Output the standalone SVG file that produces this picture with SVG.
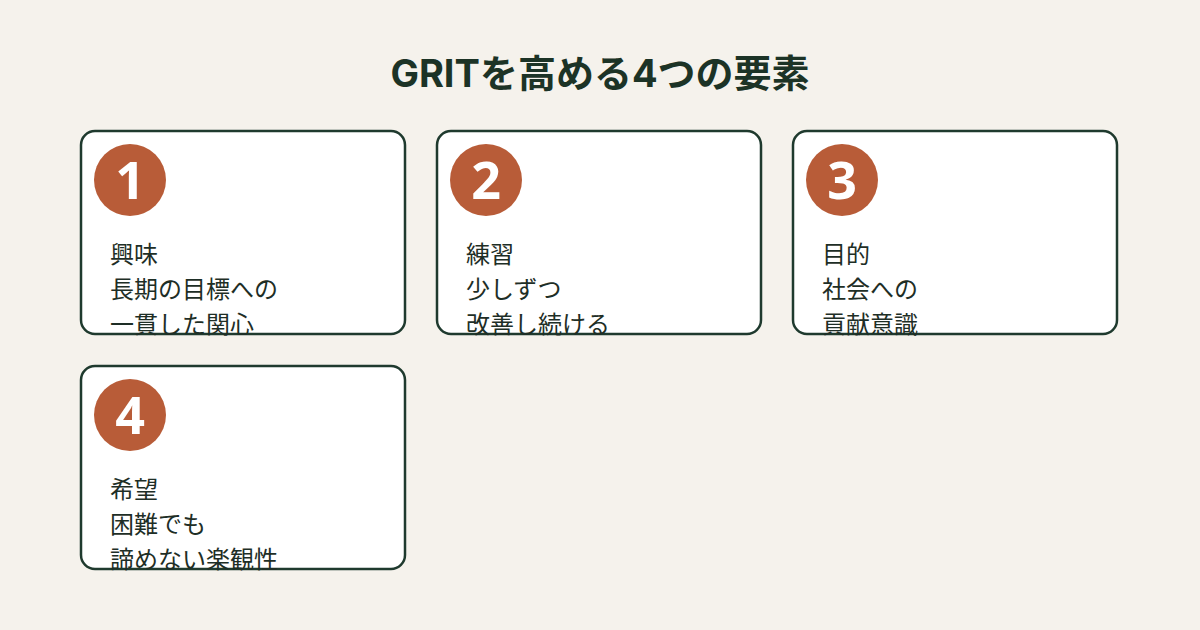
<svg xmlns="http://www.w3.org/2000/svg" width="1200" height="630" viewBox="0 0 1200 630">
<style>
.card{fill:#fff;stroke:#1f3a2e;stroke-width:2.5}
.badge{fill:#b85c38}
.num{fill:#fff;font-family:"Noto Sans","Liberation Sans",sans-serif;font-weight:700;font-size:52px;text-anchor:middle}
.t{fill:#1e2e26;font-family:"Noto Sans CJK JP",sans-serif;font-size:24px}
.title{fill:#1c3326;font-family:"Inter","Noto Sans CJK JP",sans-serif;font-weight:700;font-size:38px;text-anchor:middle}
</style>
<rect width="1200" height="630" fill="#f5f2ec"/>
<text class="title" x="600" y="87">GRITを高める4つの要素</text>
<g id="node1">
<rect class="card" x="81" y="131" width="324" height="203" rx="14"/>
<circle class="badge" cx="130" cy="180" r="36"/><text class="num" x="130" y="199">1</text>
<text class="t" x="110" y="263">興味</text><text class="t" x="110" y="298">長期の目標への</text><text class="t" x="110" y="333">一貫した関心</text>
</g>
<g id="node2">
<rect class="card" x="437" y="131" width="324" height="203" rx="14"/>
<circle class="badge" cx="486" cy="180" r="36"/><text class="num" x="486" y="199">2</text>
<text class="t" x="466" y="263">練習</text><text class="t" x="466" y="298">少しずつ</text><text class="t" x="466" y="333">改善し続ける</text>
</g>
<g id="node3">
<rect class="card" x="793" y="131" width="324" height="203" rx="14"/>
<circle class="badge" cx="842" cy="180" r="36"/><text class="num" x="842" y="199">3</text>
<text class="t" x="822" y="263">目的</text><text class="t" x="822" y="298">社会への</text><text class="t" x="822" y="333">貢献意識</text>
</g>
<g id="node4">
<rect class="card" x="81" y="366" width="324" height="203" rx="14"/>
<circle class="badge" cx="130" cy="415" r="36"/><text class="num" x="130" y="434">4</text>
<text class="t" x="110" y="498">希望</text><text class="t" x="110" y="533">困難でも</text><text class="t" x="110" y="568">諦めない楽観性</text>
</g>
<g id="connectors"/>
</svg>
